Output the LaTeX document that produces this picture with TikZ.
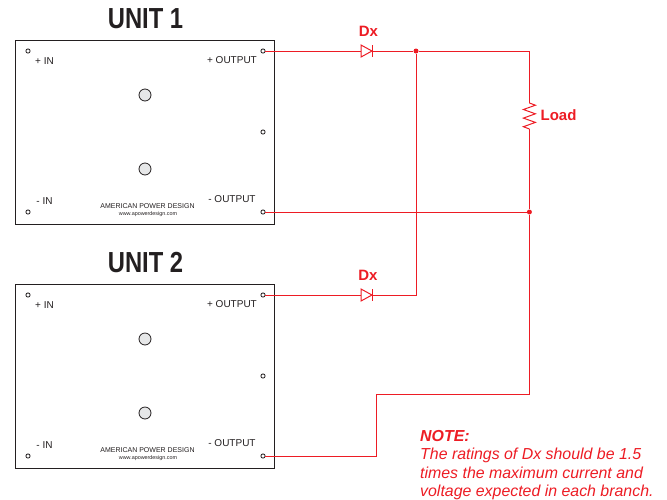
\documentclass[tikz,border=0pt]{standalone}
\usepackage{fontspec}
\usepackage{graphicx}
\setmainfont{Liberation Sans}
\definecolor{wire}{HTML}{ED1C24}
\definecolor{ink}{HTML}{231F20}
\definecolor{screwfill}{HTML}{E6E7E8}
\tikzset{
  unitbox/.style={draw=ink,line width=0.9pt,fill=white,minimum width=259,minimum height=184,inner sep=0,outer sep=0,anchor=north west},
  terminal/.style={circle,draw=ink,line width=0.8pt,fill=white,minimum size=4.2,inner sep=0,outer sep=0},
  screw/.style={circle,draw=ink,line width=0.8pt,fill=screwfill,minimum size=12,inner sep=0},
  wireline/.style={draw=wire,line width=1pt},
  diodebox/.style={minimum width=11,minimum height=12,inner sep=0,outer sep=0},
  loadbox/.style={minimum width=12,minimum height=26,inner sep=0,outer sep=0},
  junction/.style={circle,fill=wire,minimum size=5,inner sep=0},
  pinlabel/.style={text=ink,font=\fontsize{10}{12}\selectfont,inner sep=0},
  brandlabel/.style={text=ink,font=\fontsize{7}{8}\selectfont,inner sep=0},
  weblabel/.style={text=ink,font=\fontsize{5.4}{6}\selectfont,inner sep=0},
  titlelabel/.style={text=ink,font=\fontsize{29}{30}\selectfont\bfseries,inner sep=0},
  redlabel/.style={text=wire,font=\fontsize{15}{16}\selectfont\bfseries,inner sep=0},
  notelabel/.style={text=wire,font=\fontsize{15.9}{18.4}\selectfont\itshape,inner sep=0,anchor=north west,align=left},
}
\newcommand{\unitblock}[3]{%
  \node[unitbox] (#1box) at (15.5,#2) {};
  \node[terminal] (#1a) at (28,#2+11) {};
  \node[terminal] (#1op) at (263,#2+11) {};
  \node[terminal] (#1m) at (263,#2+92) {};
  \node[terminal] (#1b) at (28,#2+172) {};
  \node[terminal] (#1on) at (263,#2+172) {};
  \node[screw] (#1s) at (145,#2+55) {};
  \node[screw] (#1t) at (145,#2+129) {};
  \node[pinlabel] (#1lpi) at (44.5,#2+21) {+ IN};
  \node[pinlabel] (#1lpo) at (232,#2+20) {+ OUTPUT};
  \node[pinlabel] (#1lmi) at (44.5,#2+161.5) {- IN};
  \node[pinlabel] (#1lmo) at (232,#2+159.5) {- OUTPUT};
  \node[brandlabel] (#1brand) at (147.5,#2+166.5) {AMERICAN POWER DESIGN};
  \node[weblabel] (#1web) at (148,#2+174) {www.apowerdesign.com};
  \node[titlelabel] (#1title) at (145.5,#2-21) {\scalebox{.82}[1]{#3}};
}
\begin{document}
\begin{tikzpicture}[x=1pt,y=-1pt]
\useasboundingbox (0,0) rectangle (667,499);
\unitblock{u}{40}{UNIT 1}
\unitblock{v}{284}{UNIT 2}

\node[diodebox] (d1) at (366.5,51) {};
\node[diodebox] (d2) at (366.5,295) {};
\node[junction] (j1) at (416,51) {};
\node[junction] (j2) at (529.4,212) {};
\coordinate (c1) at (529.4,51);
\coordinate (c2) at (416,295);
\coordinate (c3) at (376,456);
\coordinate (c4) at (376,394);
\coordinate (c5) at (529.4,394);
\node[loadbox] (load) at (529.4,116) {};

\draw[wireline] (uop) -- (d1.west);
\draw[wireline] (d1.east) -- (j1) -- (c1) -- (load.north);
\draw[wireline] (load.south) -- (j2);
\draw[wireline] (uon) -- (j2);
\draw[wireline] (vop) -- (d2.west);
\draw[wireline] (d2.east) -- (c2) -- (j1);
\draw[wireline] (von) -- (c3) -- (c4) -- (c5) -- (j2);

\foreach \d in {d1,d2} {
  \draw[wireline] (\d.north west) -- (\d.east) -- (\d.south west) -- cycle;
  \draw[wireline] (\d.north east) -- (\d.south east);
}
\draw[wireline,line join=miter] (load.north)
  -- ++(6,2.2) -- ++(-12,4.3) -- ++(12,4.3) -- ++(-12,4.3) -- ++(12,4.3) -- ++(-12,4.3) -- (load.south);

\node[redlabel] (dx1) at (368.5,31) {Dx};
\node[redlabel] (dx2) at (368,275) {Dx};
\node[redlabel] (loadlabel) at (558.5,115.5) {Load};
\node[notelabel] (note) at (420,430) {{\bfseries NOTE:}\\The ratings of Dx should be 1.5\\times the maximum current and\\voltage expected in each branch.};
\end{tikzpicture}
\end{document}
